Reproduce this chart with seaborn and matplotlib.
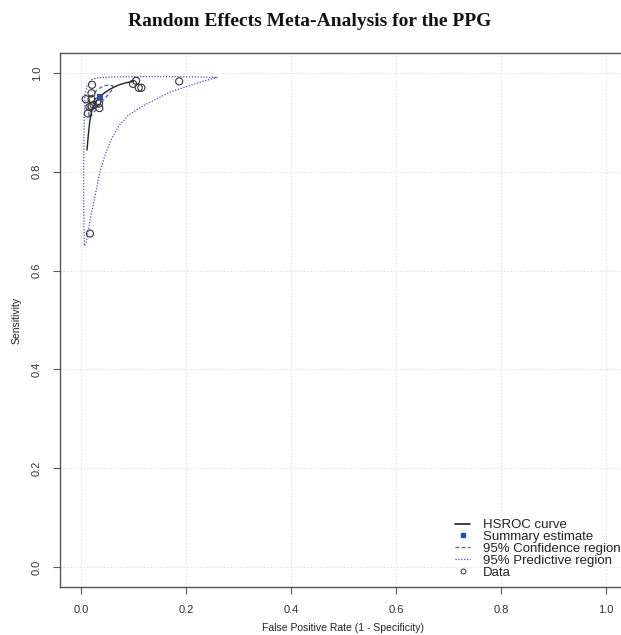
import numpy as np
import pandas as pd
import matplotlib
matplotlib.use("Agg")
import matplotlib.pyplot as plt
from matplotlib.lines import Line2D
import seaborn as sns

# ---- data ----
study_fpr = [0.021, 0.020, 0.020, 0.009, 0.020, 0.024, 0.016, 0.031, 0.034, 0.035,
             0.013, 0.017, 0.099, 0.105, 0.110, 0.115, 0.187]
study_sens = [0.976, 0.959, 0.947, 0.947, 0.933, 0.935, 0.931, 0.942, 0.938, 0.929,
              0.918, 0.675, 0.978, 0.984, 0.970, 0.970, 0.983]

summary_fpr = [0.036]
summary_sens = [0.952]

hsroc_fpr = [0.0114, 0.014, 0.017, 0.021, 0.027, 0.036, 0.045, 0.055, 0.070, 0.085, 0.100]
hsroc_sens = [0.844, 0.875, 0.905, 0.925, 0.940, 0.952, 0.960, 0.967, 0.975, 0.980, 0.983]

conf_fpr = [0.0152, 0.0133, 0.0190, 0.0285, 0.0418, 0.0532, 0.0608, 0.0589, 0.0494,
            0.0380, 0.0266, 0.0190, 0.0152]
conf_sens = [0.913, 0.9316, 0.9514, 0.9636, 0.9737, 0.9757, 0.9737, 0.9656, 0.9534,
             0.9393, 0.9231, 0.9130, 0.913]

pred_fpr = [0.260, 0.228, 0.200, 0.171, 0.143, 0.114, 0.091, 0.072, 0.057, 0.046, 0.036,
            0.029, 0.023, 0.018, 0.013, 0.0095, 0.0067, 0.0057, 0.0051, 0.0051, 0.0057,
            0.0067, 0.0076, 0.0114, 0.019, 0.030, 0.057, 0.114, 0.190, 0.260]
pred_sens = [0.991, 0.982, 0.972, 0.962, 0.947, 0.931, 0.915, 0.893, 0.864, 0.834, 0.800,
             0.763, 0.733, 0.707, 0.676, 0.656, 0.650, 0.682, 0.743, 0.824, 0.885,
             0.925, 0.955, 0.974, 0.986, 0.990, 0.992, 0.9925, 0.9925, 0.991]

ticks = [0.0, 0.2, 0.4, 0.6, 0.8, 1.0]
tick_labels = ["0.0", "0.2", "0.4", "0.6", "0.8", "1.0"]
legend_labels = ["HSROC curve", "Summary estimate", "95% Confidence region",
                 "95% Predictive region", "Data"]

# ---- style ----
sns.set_theme(style="white")
plt.rcParams['font.family'] = ['Liberation Sans', 'DejaVu Sans']

BLUE = "#4452cc"
SQ = "#2d4ea8"
SPINE = "#555555"

W, H = 621, 635
fig = plt.figure(figsize=(W / 100, H / 100), dpi=100)
ax = fig.add_axes([60 / W, 1 - 586.8 / H, (627 - 60) / W, (586.8 - 53.2) / H])
ax.set_xlim(-0.04, 1.04)
ax.set_ylim(-0.04, 1.04)

for t in ticks:
    ax.axvline(t, color="#dcdcdc", lw=0.8, ls=(0, (1, 2)), zorder=0)
    ax.axhline(t, color="#dcdcdc", lw=0.8, ls=(0, (1, 2)), zorder=0)

df_pred = pd.DataFrame({"x": pred_fpr, "y": pred_sens})
df_conf = pd.DataFrame({"x": conf_fpr, "y": conf_sens})
df_hs = pd.DataFrame({"x": hsroc_fpr, "y": hsroc_sens})
df_st = pd.DataFrame({"x": study_fpr, "y": study_sens})
df_sum = pd.DataFrame({"x": summary_fpr, "y": summary_sens})

sns.lineplot(data=df_pred, x="x", y="y", sort=False, estimator=None, ax=ax,
             color=BLUE, lw=0.9, ls=(0, (1, 1.3)))
sns.lineplot(data=df_conf, x="x", y="y", sort=False, estimator=None, ax=ax,
             color=BLUE, lw=0.9, ls=(0, (3, 2)))
sns.lineplot(data=df_hs, x="x", y="y", sort=False, estimator=None, ax=ax,
             color="#222222", lw=1.0)
sns.scatterplot(data=df_st, x="x", y="y", ax=ax, marker="o", s=26,
                facecolor="none", edgecolor="#333333", linewidth=0.8, zorder=4)
sns.scatterplot(data=df_sum, x="x", y="y", ax=ax, marker="s", s=22,
                color=SQ, edgecolor=SQ, linewidth=0, zorder=5)

ax.set_xticks(ticks)
ax.set_xticklabels(tick_labels)
ax.set_yticks(ticks)
ax.set_yticklabels(tick_labels, rotation=90, va="center")
ax.tick_params(axis="both", direction="out", length=5, width=0.8, color=SPINE,
               labelsize=8, labelcolor="#333333", pad=8)
ax.tick_params(axis="both", which="both", bottom=True, left=True)
for s in ax.spines.values():
    s.set_color(SPINE)
    s.set_linewidth(1.0)

ax.set_xlabel("")
ax.set_ylabel("")
fig.text((60 + 627) / 2 / W, 1 - 628 / H, "False Positive Rate (1 - Specificity)",
         ha="center", va="center", fontsize=7.5, color="#222222")
fig.text(17 / W, 1 - 320 / H, "Sensitivity", rotation=90, ha="center", va="center",
         fontsize=7.5, color="#222222")
fig.text(310 / W, 1 - 21 / H, "Random Effects Meta-Analysis for the PPG",
         ha="center", va="center", fontsize=14, fontweight="bold",
         family=["Liberation Serif", "DejaVu Serif"], color="#111111")

handles = [
    Line2D([], [], color="#222222", lw=1.2),
    Line2D([], [], color=SQ, marker="s", ls="none", markersize=3.5),
    Line2D([], [], color=BLUE, lw=0.9, ls=(0, (3, 2))),
    Line2D([], [], color=BLUE, lw=0.9, ls=(0, (1, 1.3))),
    Line2D([], [], color="#333333", marker="o", ls="none", markersize=3.5,
           markerfacecolor="none", markeredgewidth=0.7),
]
leg = ax.legend(handles, legend_labels, loc="upper left",
                bbox_to_anchor=(455 / W, 1 - 519 / H), bbox_transform=fig.transFigure,
                frameon=False, fontsize=9.5, handlelength=1.15, handletextpad=1.0,
                labelspacing=-0.03, borderpad=0, borderaxespad=0)
for t in leg.get_texts():
    t.set_color("#222222")

fig.savefig("out.png", dpi=100)
